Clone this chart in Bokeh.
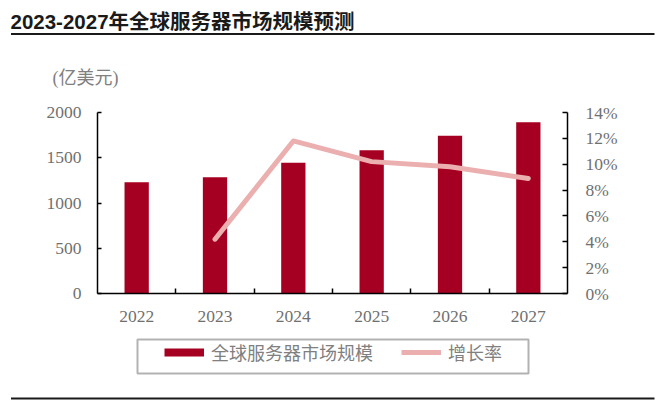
from bokeh.plotting import figure
from bokeh.layouts import column
from bokeh.models import (Range1d, LinearAxis, FixedTicker, PrintfTickFormatter,
                          Label, BoxAnnotation, Legend, LegendItem, ColumnDataSource)
from bokeh.embed import file_html
from bokeh.resources import INLINE

# ---- data ----
years = ["2022", "2023", "2024", "2025", "2026", "2027"]
market_size = [1230, 1285, 1444, 1584, 1743, 1893]          # 亿美元
growth_rate = [float("nan"), 4.2, 11.8, 10.2, 9.8, 8.9]      # %
left_ticks = [0, 500, 1000, 1500, 2000]
right_ticks = [0, 2, 4, 6, 8, 10, 12, 14]
title_text = "2023-2027年全球服务器市场规模预测"
unit_text = "(亿美元)"
bar_label = "全球服务器市场规模"
line_label = "增长率"

RED = "#A50021"
PINK = "#EBAFAF"
GRAY = "#707070"
LIGHT = "#808080"
DARK = "#1a1a1a"
SERIF = "'Liberation Serif', 'Noto Sans CJK SC'"
SANS_B = "'Liberation Sans', 'Noto Sans CJK SC'"
CJK = "'Noto Sans CJK SC'"

W = 656
H_HEAD, H_MAIN, H_FOOT = 95, 235, 70
NAN = float("nan")


def blank(height, y0):
    f = figure(width=W, height=height, output_backend="svg", toolbar_location=None,
               x_range=Range1d(0, W), y_range=Range1d(y0 + height, y0),
               x_axis_location=None, y_axis_location=None, min_border=0,
               frame_align=False)
    f.outline_line_color = None
    f.xgrid.visible = False
    f.ygrid.visible = False
    return f


def hbar(f, l, r, t, b, **kw):
    f.add_layout(BoxAnnotation(left=l, right=r, top=t, bottom=b, **kw))


# ---- header: title, rule, unit ----
head = blank(H_HEAD, 0)
head.add_layout(Label(x=10, y=21, text=title_text, text_font=SANS_B,
                      text_font_style="bold", text_font_size="20.5px",
                      text_color=DARK, text_baseline="alphabetic"))
hbar(head, 10.5, 654, 32.5, 34.5, fill_color=DARK, fill_alpha=1, line_color=None)
head.add_layout(Label(x=52, y=77, text=unit_text, text_font=SERIF,
                      text_font_size="18px", text_color=LIGHT, text_baseline="middle"))

# ---- main chart ----
idx = list(range(len(years)))
src = ColumnDataSource(dict(x=idx, market=market_size, growth=growth_rate))

p = figure(width=W, height=H_MAIN, output_backend="svg", toolbar_location=None,
           x_range=Range1d(-0.5, len(years) - 0.5), y_range=Range1d(0, 2000),
           min_border_left=97, min_border_right=W - 567, min_border_top=112 - H_HEAD,
           min_border_bottom=H_HEAD + H_MAIN - 293, frame_align=False)
p.extra_y_ranges = {"pct": Range1d(0, 14)}
p.outline_line_color = None
p.xgrid.visible = False
p.ygrid.visible = False

p.vbar(x="x", top="market", width=0.31, source=src, fill_color=RED, line_color=None)
p.line(x="x", y="growth", source=src, y_range_name="pct", line_width=5,
       line_color=PINK, line_cap="round", line_join="round")


def style_axis(ax, standoff):
    ax.axis_line_width = 1.5
    ax.axis_line_color = "black"
    ax.major_tick_line_width = 1.5
    ax.minor_tick_line_width = 1.5
    ax.major_label_standoff = standoff
    ax.major_label_text_font = SERIF
    ax.major_label_text_font_size = "17.5px"
    ax.major_label_text_color = GRAY


xa = p.xaxis[0]
xa.ticker = FixedTicker(ticks=idx, minor_ticks=[i + 0.5 for i in idx[:-1]])
xa.major_label_overrides = {i: y for i, y in zip(idx, years)}
xa.major_tick_in = 0
xa.major_tick_out = 0
xa.minor_tick_in = 5
xa.minor_tick_out = 0
style_axis(xa, 17)

ya = p.yaxis[0]
ya.ticker = FixedTicker(ticks=left_ticks, minor_ticks=[])
ya.major_tick_in = 4
ya.major_tick_out = 0
ya.minor_tick_line_color = None
style_axis(ya, 16)

ra = LinearAxis(y_range_name="pct", ticker=FixedTicker(ticks=right_ticks, minor_ticks=[]),
                formatter=PrintfTickFormatter(format="%d%%"))
ra.major_tick_in = 5
ra.major_tick_out = 0
ra.minor_tick_line_color = None
style_axis(ra, 18)
p.add_layout(ra, "right")

# ---- footer: legend box, legend, bottom rule ----
Y0 = H_HEAD + H_MAIN
foot = blank(H_FOOT, Y0)
hbar(foot, 137, 528, 339, 373, fill_alpha=0, line_color="black", line_width=2)
hbar(foot, 10.5, 654, 397, 399, fill_color=DARK, fill_alpha=1, line_color=None)
bar_key = foot.line(x=[NAN], y=[NAN], line_width=8, line_color=RED)
line_key = foot.line(x=[NAN], y=[NAN], line_width=5, line_color=PINK)
legend = Legend(items=[LegendItem(label=bar_label, renderers=[bar_key]),
                       LegendItem(label=line_label, renderers=[line_key])],
                orientation="horizontal", location=(164, Y0 + H_FOOT - 365),
                padding=0, margin=0, border_line_color=None,
                background_fill_alpha=0, glyph_width=40, glyph_height=18,
                label_height=18, label_standoff=7, spacing=28,
                label_text_font=CJK, label_text_font_size="18px",
                label_text_color=LIGHT)
foot.add_layout(legend, "center")

layout = column(head, p, foot, spacing=0)
open("out.html", "w").write(file_html(layout, INLINE))
